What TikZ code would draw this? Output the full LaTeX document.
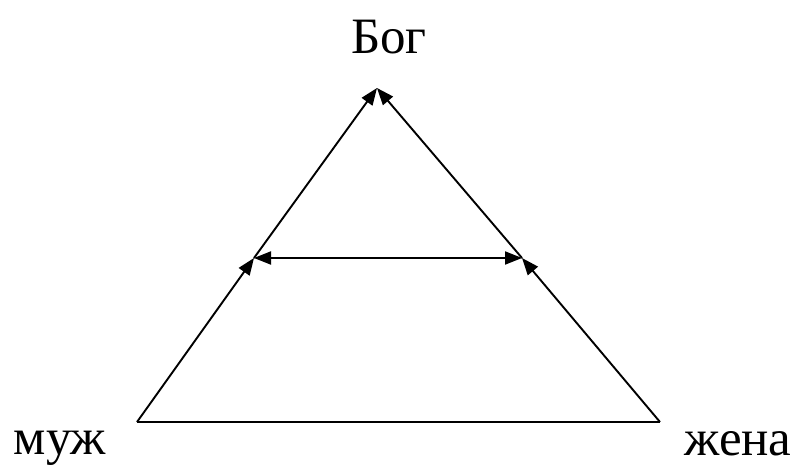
\documentclass[tikz,border=0pt]{standalone}
\usepackage{fontspec}
\setmainfont{Liberation Serif}
\usetikzlibrary{arrows.meta}
\tikzset{
  tip/.style={line width=1.9pt, -{Triangle[length=17pt,width=13pt]}},
  word/.style={anchor=base, inner sep=0pt, font=\fontsize{51}{60}\selectfont}
}
\begin{document}
\begin{tikzpicture}[x=1pt,y=-1pt]
  \useasboundingbox (0,0) rectangle (797,466);
  % corners of the triangle and the two middle points
  \coordinate (top) at (377,88);
  \coordinate (left) at (137,422);
  \coordinate (right) at (660,422);
  \coordinate (lmid) at (254,258);
  \coordinate (rmid) at (522,258);
  % labels
  \node[word] (god) at (389,53) {Бог};
  \node[word] (man) at (60,454) {муж};
  \node[word] (wife) at (738,455) {жена};
  % base line
  \draw[line width=1.9pt] (left) -- (right);
  % sides going up
  \draw[tip] (left) -- (lmid);
  \draw[tip] (lmid) -- (top);
  \draw[tip] (right) -- (rmid);
  \draw[tip] (rmid) -- (top);
  % middle line
  \draw[tip, {Triangle[length=17pt,width=13pt]}-{Triangle[length=17pt,width=13pt]}] (lmid) -- (rmid);
\end{tikzpicture}
\end{document}
